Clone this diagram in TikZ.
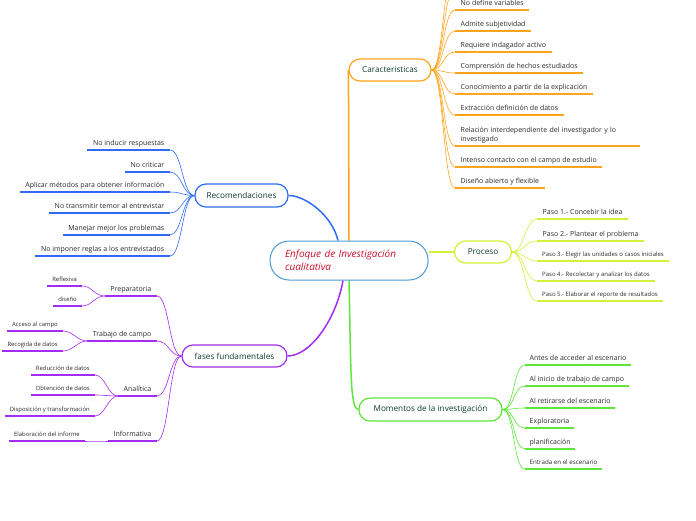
\documentclass[tikz,border=0pt]{standalone}
\usepackage{fontspec}
\setmainfont{Open Sans}
\usetikzlibrary{calc}
\definecolor{orng}{HTML}{FFA41B}
\definecolor{ylw}{HTML}{D2F03A}
\definecolor{grn}{HTML}{5EE63A}
\definecolor{blu}{HTML}{2F6BF5}
\definecolor{prp}{HTML}{A32CF2}
\definecolor{rootb}{HTML}{4A9AD4}
\definecolor{roott}{HTML}{C8102E}
\definecolor{boxt}{HTML}{0F3D30}
\definecolor{itmt}{HTML}{2A2A2A}
\pgfdeclarelayer{bg}\pgfsetlayers{bg,main}
\tikzset{
 pill/.style={draw, line width=1.2pt, fill=white, rounded corners=11pt, minimum height=22pt, inner sep=0pt, text=boxt, font=\fontsize{8.2}{10}\selectfont},
 rootst/.style={draw=rootb, line width=1pt, fill=white, rounded corners=19pt, minimum width=158pt, minimum height=39pt, inner xsep=15pt, inner ysep=0pt, text width=128pt, align=left, text=roott, font=\fontsize{10}{13}\selectfont\itshape},
 itm/.style={inner xsep=5.5pt, inner ysep=2.5pt, text height=5pt, text depth=1.5pt, text=itmt, font=\fontsize{7}{9}\selectfont},
 itmtwo/.style={inner xsep=5.5pt, inner ysep=2.5pt, text=itmt, font=\fontsize{7}{9}\selectfont},
 itmm/.style={inner xsep=4.5pt, inner ysep=3pt, text height=4.5pt, text depth=1.3pt, text=itmt, font=\fontsize{6.2}{8}\selectfont},
 itms/.style={inner xsep=5pt, inner ysep=3.5pt, text height=4.2pt, text depth=1.2pt, text=itmt, font=\fontsize{6}{7}\selectfont},
 itmf/.style={inner xsep=5pt, inner ysep=3.5pt, text height=4.2pt, text depth=1.2pt, text=itmt, font=\fontsize{5.9}{7}\selectfont},
 R/.style={anchor=south west},
 L/.style={anchor=south east},
 ul/.style={line width=1.5pt},
 br/.style={line width=0.6pt},
 mainc/.style={line width=1.5pt},
}
\begin{document}
\begin{tikzpicture}[x=1pt,y=-1pt]
\useasboundingbox (0,0) rectangle (696,520);
\clip (0,0) rectangle (696,520);
% central node and main branches
\node[rootst] (root) at (349,260.5) {Enfoque de Investigación\\cualitativa};
\node[pill, draw=orng, minimum width=82pt] (car) at (390,70) {Caracteristicas};
\node[pill, draw=ylw, minimum width=57pt] (pro) at (483,252) {Proceso};
\node[pill, draw=grn, minimum width=143pt, minimum height=23pt] (mom) at (430.5,409.5) {Momentos de la investigación};
\node[pill, draw=blu, minimum width=93pt, minimum height=23pt] (rec) at (241.5,195.5) {Recomendaciones};
\node[pill, draw=prp, minimum width=105pt] (fas) at (234.5,356) {fases fundamentales};
\begin{pgfonlayer}{bg}
\draw[mainc, orng] (root.north) -- (car.west);
\draw[mainc, ylw] (root.east |- pro.west) -- (pro.west);
\draw[mainc, grn] (root.south) .. controls (351,370) and (350,409.5) .. (mom.west);
\draw[mainc, blu] ($(root.north)+(-11,0)$) .. controls (332,215) and (305,195.5) .. (rec.east);
\draw[mainc, prp] ($(root.south)+(-6,0)$) .. controls (336,320) and (310,356) .. (fas.east);
\end{pgfonlayer}
% Caracteristicas
\coordinate (c0a) at (455,-11);
\coordinate (c0b) at (455,-32);
\foreach \c in {c0a,c0b} \draw[br, orng] (car.east) .. controls +(12,0) and +(-12,0) .. (\c);
\foreach \n/\y/\t in {c1/10/No define variables, c2/31/Admite subjetividad, c3/52/Requiere indagador activo, c4/73/Comprensión de hechos estudiados, c5/94/Conocimiento a partir de la explicación, c6/115/Extracción definición de datos, c8/167/Intenso contacto con el campo de estudio, c9/188/Diseño abierto y flexible}{
  \node[itm, R] (\n) at (455,\y) {\t};
}
\node[itmtwo, R, text width=174pt, align=left] (c7) at (455,146) {Relación interdependiente del investigador y lo\\investigado};
\foreach \n in {c1,c2,c3,c4,c5,c6,c7,c8,c9}{
  \draw[br, orng] (car.east) .. controls +(12,0) and +(-12,0) .. (\n.south west);
  \draw[ul, orng] (\n.south west) -- (\n.south east);
}
% Proceso
\foreach \n/\y/\t in {p1/219/Paso 1.- Concebir la idea, p2/241/Paso 2.- Plantear el problema}{
  \node[itm, R] (\n) at (537,\y) {\t};
}
\foreach \n/\y/\t in {p3/261/Paso 3.- Elegir las unidades o casos iniciales, p4/281/Paso 4.- Recolectar y analizar los datos, p5/301/Paso 5.- Elaborar el reporte de resultados}{
  \node[itms, R] (\n) at (537,\y) {\t};
}
\foreach \n in {p1,p2,p3,p4,p5}{
  \draw[br, ylw] (pro.east) .. controls +(12,0) and +(-12,0) .. (\n.south west);
  \draw[ul, ylw] (\n.south west) -- (\n.south east);
}
% Momentos
\foreach \n/\y/\t in {m1/365/Antes de acceder al escenario, m2/386/Al inicio de trabajo de campo, m3/408/Al retirarse del escenario, m4/428/Exploratoria, m5/449/planificación}{
  \node[itm, R, inner xsep=4.5pt] (\n) at (525,\y) {\t};
}
\node[itmm, R] (m6) at (525,469) {Entrada en el escenario};
\foreach \n in {m1,m2,m3,m4,m5,m6}{
  \draw[br, grn] (mom.east) .. controls +(12,0) and +(-12,0) .. (\n.south west);
  \draw[ul, grn] (\n.south west) -- (\n.south east);
}
% Recomendaciones
\foreach \n/\y/\t in {r1/150/No inducir respuestas, r2/172/No criticar, r3/192/Aplicar métodos para obtener información, r4/213/No transmitir temor al entrevistar, r5/235/Manejar mejor los problemas, r6/256/No imponer reglas a los entrevistados}{
  \node[itm, L] (\n) at (170,\y) {\t};
}
\foreach \n in {r1,r2,r3,r4,r5,r6}{
  \draw[br, blu] (\n.south east) .. controls +(12,0) and +(-12,0) .. (rec.west);
  \draw[ul, blu] (\n.south west) -- (\n.south east);
}
% fases fundamentales
\foreach \n/\y/\t in {f1/296/Preparatoria, f2/341/Trabajo de campo, f3/396/Analítica, f4/441/Informativa}{
  \node[itm, L] (\n) at (157,\y) {\t};
}
\foreach \n in {f1,f2,f3,f4}{
  \draw[br, prp] (\n.south east) .. controls +(12,0) and +(-12,0) .. (fas.west);
  \draw[ul, prp] (\n.south west) -- (\n.south east);
}
\foreach \n/\x/\y/\t/\p in {g1/82/286/Reflexiva/f1, g2/82/306/diseño/f1, g3/63/331/Acceso al campo/f2, g4/63/351/Recogida de datos/f2, g5/95/375/Reducción de datos/f3, g6/95/395/Obtención de datos/f3, g7/95/416/Disposición y transformación/f3, g8/85/441/Elaboración del informe/f4}{
  \node[itmf, L] (\n) at (\x,\y) {\t};
  \draw[br, prp] (\n.south east) .. controls +(10,0) and +(-10,0) .. (\p.south west);
  \draw[ul, prp] (\n.south west) -- (\n.south east);
}
\end{tikzpicture}
\end{document}
